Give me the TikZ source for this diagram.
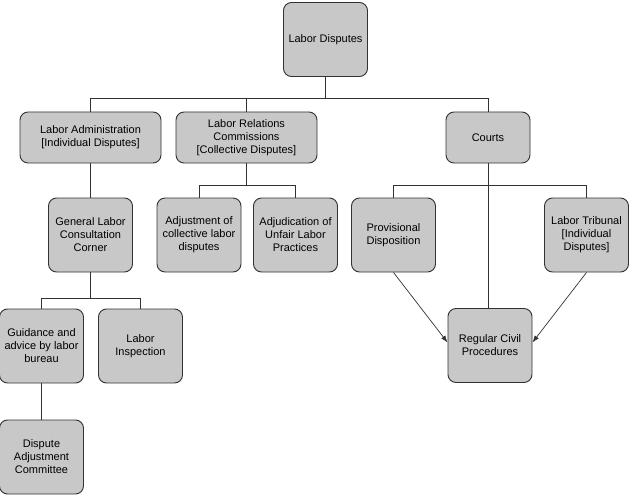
\documentclass[tikz,border=0pt]{standalone}
\usepackage{fontspec}
\setmainfont{Liberation Sans}
\usetikzlibrary{arrows.meta}
\definecolor{boxgray}{RGB}{200,200,200}
\definecolor{edgegray}{RGB}{50,50,50}
\begin{document}
\begin{tikzpicture}[x=1pt,y=-1pt,
    org/.style={draw=edgegray, fill=boxgray, line width=0.9pt, rounded corners=8pt,
        minimum width=84pt, minimum height=74pt, align=center, inner sep=2pt,
        font=\fontsize{11}{13}\selectfont},
    wide/.style={org, minimum width=141pt, minimum height=51pt},
    link/.style={draw=edgegray, line width=0.7pt}]
            \useasboundingbox (0,0) rectangle (630,495);

            \node[org] (LD) at (325.5,39.5) {Labor Disputes};

            \node[wide] (LA) at (90.5,137.5) {Labor Administration\\{}[Individual Disputes]};
            \node[wide] (LRC) at (246.5,137.5) {Labor Relations\\Commissions\\{}[Collective Disputes]};
            \node[org, minimum height=51pt] (C) at (488,137.5) {Courts};

            \node[org] (GLCC) at (90.5,235) {General Labor\\Consultation\\Corner};
            \node[org] (ACL) at (199,235) {Adjustment of\\collective labor\\disputes};
            \node[org] (AUL) at (295.5,235) {Adjudication of\\Unfair Labor\\Practices};
            \node[org] (PD) at (393.5,235) {Provisional\\Disposition};
            \node[org] (LT) at (586.5,235) {Labor Tribunal\\{}[Individual\\Disputes]};

            \node[org] (GA) at (41.5,346) {Guidance and\\advice by labor\\bureau};
            \node[org] (LI) at (140.5,346) {Labor\\Inspection};
            \node[org] (RCP) at (490,345.5) {Regular Civil\\Procedures};

            \node[org] (DAC) at (41.5,457) {Dispute\\Adjustment\\Committee};

            \draw[link] (LD.south) -- ++(0,21) -| (LA.north);
            \draw[link] (LD.south) -- ++(0,21) -| (LRC.north);
            \draw[link] (LD.south) -- ++(0,21) -| (C.north);

            \draw[link] (LA.south) -- (GLCC.north);
            \draw[link] (LRC.south) -- ++(0,22) -| (ACL.north);
            \draw[link] (LRC.south) -- ++(0,22) -| (AUL.north);
            \draw[link] (C.south) -- ++(0,22) -| (PD.north);
            \draw[link] (C.south) -- ++(0,22) -| (LT.north);
            \draw[link] (C.south) -- (C.south |- RCP.north);

            \draw[link] (GLCC.south) -- ++(0,26) -| (GA.north);
            \draw[link] (GLCC.south) -- ++(0,26) -| (LI.north);
            \draw[link] (GA.south) -- (DAC.north);

            \draw[link, -{Latex[length=7pt,width=5pt]}] (PD.south) -- ([yshift=3pt]RCP.west);
            \draw[link, -{Latex[length=7pt,width=5pt]}] (LT.south) -- ([yshift=3pt]RCP.east);
        \end{tikzpicture}
\end{document}
